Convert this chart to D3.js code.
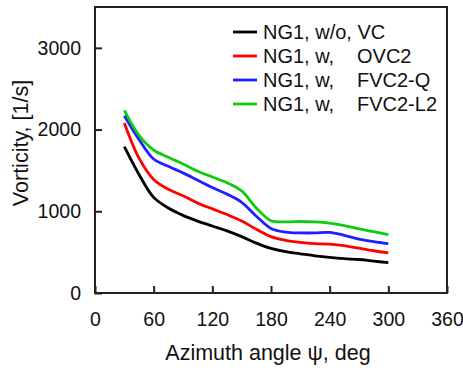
<!DOCTYPE html>
<html>
<head>
<meta charset="utf-8">
<script src="https://cdn.jsdelivr.net/npm/d3@7"></script>
<style>
  body { margin: 0; background: #fff; }
  text { font-family: "Liberation Sans", Arial, sans-serif; fill: #111; }
</style>
</head>
<body>
<div class="canvas"></div>
<script>
// data
const angles = [30, 45, 60, 75, 90, 105, 120, 135, 150, 165, 180, 195, 210, 225, 240, 255, 270, 285, 300];
const noVC  = [1790, 1450, 1170, 1040, 950, 880, 820, 760, 690, 610, 545, 505, 480, 455, 435, 420, 410, 390, 372];
const ovc2  = [2080, 1650, 1390, 1270, 1190, 1100, 1030, 960, 880, 780, 690, 645, 620, 605, 598, 580, 548, 517, 490];
const fvc2q = [2170, 1880, 1640, 1550, 1470, 1380, 1290, 1210, 1110, 940, 790, 745, 735, 735, 742, 705, 660, 628, 604];
const fvc2l = [2235, 1930, 1750, 1660, 1580, 1490, 1420, 1350, 1250, 1040, 885, 870, 875, 870, 855, 825, 785, 750, 715];
const seriesNames = ['NG1, w/o, VC', 'NG1, w,', 'NG1, w,', 'NG1, w,'];
const seriesSuffix = ['', 'OVC2', 'FVC2-Q', 'FVC2-L2'];
const xTicks = [0, 60, 120, 180, 240, 300, 360];
const yTicks = [0, 1000, 2000, 3000];

const colors = ['#000000', '#ff0000', '#2020ff', '#10cc10'];
const allSeries = [noVC, ovc2, fvc2q, fvc2l];

const width = 463, height = 371;
const margin = { top: 7, right: 16, bottom: 78, left: 95 };
const graphWidth = width - margin.left - margin.right;
const graphHeight = height - margin.top - margin.bottom;

const svg = d3.select('.canvas')
    .append('svg')
    .attr('width', width)
    .attr('height', height)
;

const graph = svg.append('g')
    .attr('transform', `translate(${margin.left}, ${margin.top})`)
;

// scales
const x = d3.scaleLinear().domain([0, 360]).range([0, graphWidth]);
const y = d3.scaleLinear().domain([0, 3500]).range([graphHeight, 0]);

// axes (ticks pointing inward)
const xAxis = d3.axisBottom(x).tickValues(xTicks).tickSize(-7).tickFormat(d3.format('d'));
const yAxis = d3.axisLeft(y).tickValues(yTicks).tickSize(-7).tickFormat(d3.format('d'));

const xAxisGroup = graph.append('g')
    .attr('transform', `translate(0, ${graphHeight})`)
    .call(xAxis)
;
const yAxisGroup = graph.append('g').call(yAxis);

[xAxisGroup, yAxisGroup].forEach(g => {
    g.select('.domain').remove();
    g.selectAll('line').attr('stroke', '#222').attr('stroke-width', 2);
    g.selectAll('text')
        .style('font-family', '"Liberation Sans", Arial, sans-serif')
        .style('font-size', '19.5px')
        .attr('fill', '#111');
});
xAxisGroup.selectAll('text').attr('dy', '0.71em').attr('y', 19);
yAxisGroup.selectAll('text').attr('x', -14);

// frame
graph.append('rect')
    .attr('width', graphWidth)
    .attr('height', graphHeight)
    .attr('fill', 'none')
    .attr('stroke', '#222')
    .attr('stroke-width', 2)
;

// lines
const line = d3.line()
    .x((d, i) => x(angles[i]))
    .y(d => y(d))
    .curve(d3.curveCatmullRom.alpha(0.5))
;

graph.selectAll('path.series')
    .data(allSeries)
    .enter()
    .append('path')
        .attr('class', 'series')
        .attr('fill', 'none')
        .attr('stroke', (d, i) => colors[i])
        .attr('stroke-width', 2.8)
        .attr('d', line)
;

// legend
const legend = svg.append('g');
const rows = legend.selectAll('g')
    .data(seriesNames)
    .enter()
    .append('g')
        .attr('transform', (d, i) => `translate(233, ${32 + i * 24})`)
;
rows.append('line')
    .attr('x1', 0).attr('x2', 24)
    .attr('stroke', (d, i) => colors[i])
    .attr('stroke-width', 2.8)
;
rows.append('text')
    .attr('x', 30)
    .attr('y', 7)
    .style('font-size', '20px')
    .text(d => d)
;
rows.append('text')
    .attr('x', 124)
    .attr('y', 7)
    .style('font-size', '20px')
    .text((d, i) => seriesSuffix[i])
;

// axis titles
svg.append('text')
    .attr('x', margin.left + graphWidth / 2 - 3)
    .attr('y', 360)
    .attr('text-anchor', 'middle')
    .style('font-size', '21.5px')
    .text('Azimuth angle ψ, deg')
;
svg.append('text')
    .attr('transform', 'translate(28, 143) rotate(-90)')
    .attr('text-anchor', 'middle')
    .style('font-size', '21.5px')
    .text('Vorticity, [1/s]')
;
</script>
</body>
</html>
